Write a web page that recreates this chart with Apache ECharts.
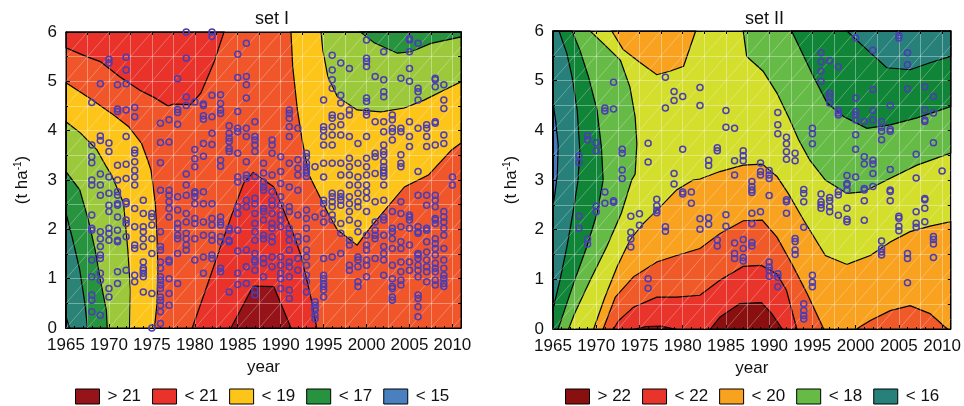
<!DOCTYPE html>
<html>
<head>
<meta charset="utf-8">
<script src="https://cdn.jsdelivr.net/npm/echarts@6/dist/echarts.min.js"></script>
<style>
  html, body { margin: 0; padding: 0; background: #fff; }
  #chart { width: 964px; height: 406px; }
</style>
</head>
<body>
<div id="chart"></div>
<script>
const FONT = "'Liberation Sans', Arial, sans-serif";

// axis ticks
const xTicks = [1965, 1970, 1975, 1980, 1985, 1990, 1995, 2000, 2005, 2010];
const yTicks = [0, 1, 2, 3, 4, 5, 6];

// ---- set I contour regions (year, t/ha) ----
const s1Red1 = [[1965,6],[1965,5.68],[1967.4,5.5],[1969,5.4],[1971.3,5.09],[1973.6,4.82],[1975.2,4.68],[1976.9,4.5],[1977.5,4.54],[1979.5,4.53],[1980.7,4.76],[1982.2,5.37],[1983.4,6]];
const s1Red2 = [[1979.7,0],[1981.4,0.84],[1983.0,1.65],[1984.5,2.39],[1985.7,2.94],[1986.8,3.15],[1989.2,2.86],[1990.0,2.53],[1991.6,1.85],[1992.4,1.45],[1993.5,0.63],[1994.2,0]];
const s1DarkRed = [[1984.2,0],[1986.8,0.85],[1989.2,0.84],[1991.2,0]];
const s1YellowL = [[1965,4.97],[1967.5,4.69],[1970.3,4.35],[1972.3,4.08],[1973.8,3.74],[1974.5,3.41],[1974.9,3.2],[1975.4,2.53],[1975.6,1.85],[1975.7,1.18],[1975.6,0.5],[1975.3,0],[1965,0]];
const s1YellowR = [[1991.2,6],[1991.4,5.3],[1991.95,4.42],[1992.5,3.81],[1993.3,3.1],[1995.5,2.33],[1996.6,1.99],[1998.9,1.68],[2000.5,2.05],[2004.4,2.86],[2007.2,3.1],[2009.9,3.61],[2011,3.75],[2011,6]];
const s1LGreenL = [[1965,4.18],[1966.7,3.95],[1968.6,3.61],[1969.7,3.27],[1970.3,3.1],[1971.7,2.53],[1972.2,1.58],[1972.5,0.77],[1972.4,0],[1965,0]];
const s1LGreenR = [[1994.7,6],[1994.9,5.64],[1995.5,5.09],[1996.6,4.69],[1998.9,4.42],[2001.7,4.38],[2004.4,4.46],[2006.7,4.62],[2009.0,4.82],[2011,4.99],[2011,6]];
const s1GreenL = [[1965,3.17],[1966.6,2.8],[1967.6,2.19],[1968.4,1.58],[1969.0,0.97],[1969.7,0.36],[1969.8,0],[1965,0]];
const s1GreenR = [[1999.3,6],[2000.9,5.78],[2003.6,5.57],[2005.2,5.6],[2007.5,5.77],[2011,5.9],[2011,6]];
const s1Teal = [[1965,2.33],[1965.7,1.85],[1966.6,1.18],[1967.2,0.5],[1967.5,0],[1965,0]];
const s1Blue = [[1965,0.23],[1965.4,0],[1965,0]];

// ---- set II contour regions ----
const s2OrangeLow = [[1969.7,0],[1971.0,0.64],[1972.4,1.25],[1973.9,1.79],[1975.5,2.13],[1977.4,2.46],[1979.3,2.8],[1981.2,3.0],[1982.0,3.02],[1984.3,3.17],[1987.0,3.3],[1989.2,3.32],[1990.9,3.07],[1992.2,2.73],[1994.0,2.19],[1996.5,1.48],[1999.0,1.3],[2001.7,1.48],[2004.0,1.75],[2006.3,1.96],[2008.6,2.07],[2011,2.16],[2011,0]];
const s2OrangeTop = [[1971.8,6],[1973.1,5.63],[1975.1,5.36],[1977.0,5.12],[1978.5,5.19],[1980.1,5.29],[1981.5,6]];
const s2OrRedL = [[1970.8,0],[1972.2,0.64],[1974.3,1.05],[1977.0,1.35],[1979.3,1.48],[1982.0,1.62],[1984.3,1.92],[1987.0,2.18],[1989.2,2.19],[1990.9,1.85],[1992.6,1.32],[1994.4,0.71],[1996.3,0]];
const s2OrRedR = [[2000.1,0],[2001.7,0.17],[2004.0,0.37],[2006.3,0.47],[2008.6,0.31],[2010.6,0]];
const s2Red = [[1972.0,0],[1972.6,0.17],[1974.3,0.44],[1977.0,0.64],[1979.3,0.64],[1982.0,0.68],[1984.3,0.98],[1987.0,1.26],[1989.1,1.28],[1990.9,1.11],[1992.0,0.78],[1993.2,0]];
const s2DarkRedA = [[1974.5,0],[1975.8,0.05],[1977.5,0.06],[1979,0]];
const s2DarkRedB = [[1983.2,0],[1984.3,0.24],[1986.6,0.51],[1989.1,0.53],[1990.3,0.31],[1991.5,0]];
const s2LGreenL = [[1965,6],[1969.3,6],[1970.8,5.75],[1972.8,5.41],[1973.9,4.87],[1974.5,4.27],[1974.7,3.73],[1974.5,3.12],[1974.1,3.0],[1972.9,2.33],[1971.2,1.65],[1969.3,0.98],[1967.5,0.31],[1966.8,0],[1965,0]];
const s2LGreenR = [[1987.0,6],[1987.4,5.49],[1989.3,5.19],[1990.9,4.75],[1992.4,4.21],[1993.4,3.81],[1994.7,3.4],[1996.5,3.0],[1999.0,2.73],[2000.9,2.76],[2003.6,3.0],[2007.1,3.3],[2011,3.54],[2011,6]];
const s2GreenL = [[1965,6],[1967.2,6],[1968.1,5.62],[1969.1,5.08],[1970.1,4.4],[1970.6,3.66],[1970.8,3.0],[1970.1,2.33],[1968.9,1.65],[1967.5,0.98],[1966.2,0.31],[1965.6,0],[1965,0]];
const s2GreenR = [[1992.6,6],[1994.0,5.49],[1995.1,5.09],[1996.7,4.55],[1998.6,4.28],[2001.3,4.04],[2004.0,4.11],[2007.1,4.25],[2011,4.48],[2011,6]];
const s2TealL = [[1965,6],[1965.7,6],[1966.6,5.55],[1967.2,5.08],[1967.8,4.4],[1968.1,3.6],[1967.9,3.0],[1967.3,2.33],[1966.6,1.65],[1965.8,0.98],[1965,0.4]];
const s2TealR = [[1999.0,6],[2000.9,5.69],[2003.6,5.26],[2006.3,5.22],[2008.6,5.36],[2011,5.49],[2011,6]];
const s2Blue = [[1965,4.55],[1965.3,4.2],[1965.6,3.7],[1965.5,3.1],[1965.2,2.7],[1965,2.5]];

// ---- observations (year, t/ha) ----
const s1Years = [1968,1969,1970,1971,1972,1973,1974,1975,1976,1977,1978,1979,1980,1981,1982,1983,1984,1985,1986,1987,1988,1989,1990,1991,1992,1993,1994,1995,1996,1997,1998,1999,2000,2001,2002,2003,2004,2005,2006,2007,2008,2009,2010];
const s1Values = [
  [4.57,3.71,3.47,3.35,3.0,2.9,2.29,2.02,1.98,1.38,1.04,0.67,0.56,0.33],
  [4.95,3.89,3.8,3.12,2.9,2.69,1.95,1.81,1.65,1.48,1.41,1.11,0.97,0.26],
  [5.45,5.37,3.75,3.58,3.06,2.73,2.49,2.36,2.02,1.92,1.78,0.8,0.63],
  [4.93,4.44,4.39,3.3,3.0,2.76,2.69,2.52,2.49,2.25,1.98,1.78,1.75,1.14,0.9],
  [5.49,5.23,4.95,4.42,3.88,3.32,3.03,2.56,2.52,2.19,2.12,1.85,1.17],
  [4.47,4.28,3.61,3.54,3.37,3.2,3.06,2.9,2.42,2.05,1.68,1.61,1.07,0.94],
  [2.59,2.32,2.05,1.95,1.81,1.65,1.34,1.21,1.17,1.11,1.04,0.73],
  [2.32,2.25,2.09,1.81,1.51,0.7,0],
  [4.15,3.76,3.35,2.79,1.95,1.65,1.58,1.34,1.21,1.04,0.97,0.87,0.8,0.63,0.56,0.46,0.33,0.09],
  [4.22,3.77,2.79,2.69,2.56,2.42,2.25,1.38,1.34,1.0,0.7,0.46],
  [5.05,4.43,4.37,4.13,2.66,2.39,2.12,2.02,1.88,1.81,1.51,0.9],
  [6.0,5.47,4.68,4.51,3.12,2.9,2.69,2.32,2.15,1.92,1.81,1.68,1.58],
  [4.58,3.62,3.43,3.27,2.76,2.73,2.66,2.52,2.22,2.12,1.81,1.38],
  [4.54,4.51,4.3,4.23,3.74,3.48,2.76,2.52,2.15,1.88,1.44,1.11],
  [6.0,5.91,4.72,4.28,3.95,3.72,2.52,2.22,2.09,1.88,1.78,1.48,1.41],
  [4.73,4.55,4.42,4.35,3.4,3.28,2.25,2.15,2.09,1.85,1.75,1.21,1.14],
  [4.1,3.95,3.85,3.78,3.64,3.58,2.02,1.98,1.78,1.75,0.73],
  [5.55,5.08,4.39,4.05,3.98,3.54,3.06,2.96,2.46,2.32,1.98,1.56,1.11,0.88],
  [5.77,5.1,4.93,4.66,4.05,3.88,3.37,3.1,3.03,2.59,2.46,1.58,1.24,0.9],
  [4.18,3.88,3.81,3.71,3.58,3.07,2.63,2.52,2.32,2.12,1.95,1.78,1.51,1.38,1.34,1.17,0.77,0.67],
  [3.34,3.14,2.96,2.86,2.79,2.42,2.36,2.19,1.88,1.81,1.41,1.31,1.04],
  [3.81,3.71,3.54,3.1,2.76,2.59,2.49,2.32,2.12,2.02,1.85,1.75,1.44,1.24],
  [3.47,3.17,2.93,2.66,2.49,2.29,2.19,2.05,1.44,1.27,1.11,1.0,0.8],
  [4.42,4.35,4.25,4.08,3.88,3.34,2.86,2.46,2.36,2.02,1.92,1.78,1.58,1.34,1.24,1.04,0.77,0.6],
  [4.05,3.41,3.24,3.1,2.79,2.29,1.85,1.75,1.41,1.17],
  [3.54,3.47,3.34,3.27,3.2,3.14,3.07,2.39,2.22,2.02,1.81,1.58,1.44,1.27,1.07,0.94,0.73],
  [3.27,2.25,0.53,0.46,0.4,0.36,0.26,0.19],
  [4.62,4.08,4.01,3.88,3.71,3.34,3.06,2.59,2.52,2.32,2.15,1.41,1.07,1.0,0.9,0.84,0.77,0.63],
  [5.53,5.23,5.03,4.86,4.32,4.25,4.08,3.91,3.71,3.34,2.73,2.66,2.56,2.46,2.29,2.19,1.44],
  [5.37,4.72,4.56,4.29,4.12,3.91,3.34,3.1,2.73,2.66,2.59,2.49,2.12,1.92,1.51],
  [5.26,4.42,4.32,3.88,3.44,3.27,3.1,2.9,2.66,2.52,2.36,2.19,1.78,1.68,1.27,1.17],
  [3.74,3.34,3.06,2.9,2.73,2.56,2.46,2.12,1.95,1.44,1.38,1.24,0.94,0.84],
  [5.84,5.47,5.4,5.3,4.66,4.59,4.39,4.32,3.88,3.44,3.27,3.1,2.9,2.76,2.63,2.36,1.88,1.68,1.58,1.38,1.27,1.04],
  [5.1,4.18,3.54,3.47,3.13,2.56,2.15,1.98,1.88,1.81,1.41],
  [5.6,5.03,4.79,4.69,4.18,3.98,3.71,3.58,3.51,3.37,3.27,3.2,3.14,3.07,2.9,2.59,2.25,2.19,1.88,1.65,1.51,1.38,1.07],
  [4.32,4.22,4.05,3.98,3.81,2.36,2.02,1.95,1.81,1.61,1.27,1.0,0.84,0.8,0.63,0.56],
  [5.06,4.05,3.98,3.51,3.34,3.27,2.56,2.32,2.05,1.75,1.61,1.34,1.14,0.97,0.87],
  [5.87,5.84,5.6,5.26,5.0,4.18,3.88,3.68,2.29,2.25,2.19,2.02,1.68,1.34,1.17],
  [5.77,4.86,4.79,4.62,4.05,3.17,2.69,2.05,1.95,1.92,1.51,1.48,1.41,1.27,1.17,1.04,0.67,0.6,0.43,0.23],
  [4.12,4.05,3.88,3.68,2.69,2.49,2.02,1.98,1.75,1.54,1.38,1.24,1.14,0.94],
  [5.06,5.03,4.89,4.18,4.15,3.71,2.69,2.59,2.46,2.22,2.19,2.12,1.81,1.71,1.61,1.48,1.31,1.21,1.14,0.97,0.87],
  [4.93,4.62,4.45,3.91,3.74,2.36,2.25,2.15,2.02,1.88,1.61,1.38,1.21,1.07,1.0,0.9,0.84],
  [3.06,2.9]
];

const s2Years = [1968,1969,1970,1971,1972,1973,1974,1975,1976,1977,1978,1979,1980,1981,1982,1983,1984,1985,1986,1987,1988,1989,1990,1991,1992,1993,1994,1995,1996,1997,1998,1999,2000,2001,2002,2003,2004,2005,2006,2007,2008,2009,2010];
const s2Values = [
  [3.49,3.35,2.27,2.03],
  [3.89,3.81,1.81,1.71],
  [3.75,3.59,2.47,2.36],
  [4.45,4.39,2.76,2.53],
  [4.97,4.43,2.58,2.55],
  [3.62,3.54,3.2,3.03],
  [2.27,1.95,1.81,1.65],
  [2.32,2.09],
  [3.74,3.36,1.01,0.82],
  [2.61,2.48,2.39,2.34],
  [5.07,4.45,2.06,1.97],
  [4.78,4.6,3.13,2.92],
  [4.68,3.62,2.76,2.72],
  [2.76,2.53],
  [4.86,4.5,2.22,2.01],
  [3.4,3.29,2.24,2.11],
  [3.65,3.59,1.79,1.67],
  [4.4,4.06,2.3,2.07],
  [4.04,3.39,3.1,1.73,1.52,1.42],
  [3.59,3.49,3.39,1.8,1.62,1.44,1.37],
  [2.97,2.87,2.8,2.75,2.33,2.12,1.74,1.67],
  [3.34,3.17,3.1,2.36],
  [3.19,3.1,3.03,2.69,1.35,1.25,1.18,1.06],
  [4.36,4.11,3.93,1.11,1.04,0.85],
  [3.86,3.73,3.57,3.42,2.6,2.56,2.33],
  [3.54,3.39,1.82,1.76,1.59,1.5],
  [2.81,2.73,2.56,2.05,0.51,0.37,0.27,0.2],
  [4.04,3.93,3.73,1.08,0.94,0.85],
  [5.56,5.38,5.19,4.99,2.72,2.56,2.5,2.43],
  [5.4,4.74,4.68,4.55,2.65,2.58,2.46,2.36],
  [5.28,4.4,4.35,4.31,2.77,2.7,2.29],
  [3.09,2.93,2.9,2.8,2.43,2.21,2.16],
  [5.86,4.65,4.38,4.31,4.21,3.91,3.62,3.06],
  [4.18,3.47,3.32,2.83,2.8,2.58,2.19],
  [5.61,4.82,4.4,4.21,3.4,3.32,3.13,2.87],
  [4.18,4.06,3.98,3.81,1.77,1.62,1.55,1.49],
  [4.5,4.02,3.98,3.21,2.8,2.77,2.58],
  [5.91,5.86,2.27,2.23,2.07,1.98],
  [5.56,5.32,4.83,1.52,1.42,0.93],
  [3.52,3.04,2.36,2.13,2.05],
  [4.88,4.41,4.21,4.18,2.63,2.6,2.43,2.16],
  [4.68,4.35,3.75,1.86,1.8,1.71,1.44],
  [3.18]
];

// legend labels
const s1Legend = ['> 21', '< 21', '< 19', '< 17', '< 15'];
const s2Legend = ['> 22', '< 22', '< 20', '< 18', '< 16'];

const chart = echarts.init(document.getElementById('chart'));

function bandSeries(name, g, polys, color) {
  return {
    type: 'custom',
    name: name,
    xAxisIndex: g * 2,
    yAxisIndex: g * 2,
    z: 2,
    silent: true,
    itemStyle: { color: color },
    data: polys.map(p => p[0]),
    renderItem: function (params, api) {
      const pts = polys[params.dataIndex].map(p => api.coord(p));
      return {
        type: 'polygon',
        shape: { points: pts },
        style: { fill: color, stroke: '#000', lineWidth: 1.2 }
      };
    }
  };
}

function pointSeries(g, years, values) {
  const data = [];
  years.forEach((yr, i) => values[i].forEach(v => data.push([yr, v])));
  return {
    type: 'scatter',
    xAxisIndex: g * 2,
    yAxisIndex: g * 2,
    z: 5,
    silent: true,
    symbol: 'circle',
    symbolSize: 6,
    itemStyle: { color: 'rgba(0,0,0,0)', borderColor: '#4b3db3', borderWidth: 1.5, opacity: 1 },
    data: data
  };
}

const meshLine = { show: true, lineStyle: { color: 'rgba(255,255,255,0.35)', width: 1 } };

function axesX(g) {
  return [
    {
      gridIndex: g, type: 'value', min: xTicks[0], max: 2011, interval: 5, position: 'bottom', z: 3,
      axisLine: { show: true, onZero: false, lineStyle: { color: '#000', width: 1 } },
      axisTick: { show: true, inside: true, length: 4, lineStyle: { color: '#000' } },
      minorTick: { show: true, splitNumber: 5, length: 2, lineStyle: { color: '#000' } },
      axisLabel: { fontSize: 17, color: '#111', margin: 9, showMaxLabel: false, fontFamily: FONT, formatter: v => String(v) },
      splitLine: { show: false },
      name: 'year', nameLocation: 'middle', nameGap: 29,
      nameTextStyle: { fontSize: 17, color: '#111', fontFamily: FONT }
    },
    {
      gridIndex: g, type: 'value', min: xTicks[0], max: 2011, interval: 2.5, position: 'top', z: 3,
      axisLine: { show: true, onZero: false, lineStyle: { color: '#000', width: 1 } },
      axisTick: { show: true, inside: true, length: 3, lineStyle: { color: '#000' } },
      axisLabel: { show: false },
      splitLine: meshLine
    }
  ];
}

function axesY(g, gap) {
  return [
    {
      gridIndex: g, type: 'value', min: yTicks[0], max: yTicks[yTicks.length - 1], interval: 1, position: 'left', z: 3,
      axisLine: { show: true, onZero: false, lineStyle: { color: '#000', width: 1 } },
      axisTick: { show: true, inside: true, length: 4, lineStyle: { color: '#000' } },
      minorTick: { show: true, splitNumber: 2, length: 2, lineStyle: { color: '#000' } },
      axisLabel: { fontSize: 17, color: '#111', margin: 9, fontFamily: FONT },
      splitLine: { show: false },
      name: '{a|(t ha}{s|-1}{a|)}', nameLocation: 'middle', nameGap: gap,
      nameTextStyle: {
        fontFamily: FONT,
        rich: {
          a: { fontSize: 17, color: '#111', fontFamily: FONT },
          s: { fontSize: 10, color: '#111', fontFamily: FONT, verticalAlign: 'top', padding: [0, 0, 9, 0] }
        }
      }
    },
    {
      gridIndex: g, type: 'value', min: 0, max: 6, interval: 0.5, position: 'right', z: 3,
      axisLine: { show: true, onZero: false, lineStyle: { color: '#000', width: 1 } },
      axisTick: { show: true, inside: true, length: 3, lineStyle: { color: '#000' } },
      axisLabel: { show: false },
      splitLine: meshLine
    }
  ];
}

function legendFor(names, left) {
  return {
    data: names, left: left, top: 388, padding: 0,
    icon: 'rect', itemWidth: 24, itemHeight: 15, itemGap: 11,
    selectedMode: false,
    itemStyle: { borderColor: '#000', borderWidth: 1 },
    textStyle: { fontSize: 17, color: '#111', fontFamily: FONT, padding: [0, 0, 0, 3] }
  };
}

const option = {
  animation: false,
  backgroundColor: '#fff',
  title: [
    { text: 'set I', left: 255, top: 10, padding: 0, textStyle: { fontSize: 18, fontWeight: 'normal', color: '#111', fontFamily: FONT } },
    { text: 'set II', left: 745, top: 10, padding: 0, textStyle: { fontSize: 18, fontWeight: 'normal', color: '#111', fontFamily: FONT } }
  ],
  legend: [legendFor(s1Legend, 75), legendFor(s2Legend, 565)],
  grid: [
    { left: 66, top: 32, width: 395, height: 296, show: true, backgroundColor: '#f0562a', borderColor: '#000', borderWidth: 1 },
    { left: 553, top: 31, width: 399, height: 298, show: true, backgroundColor: '#d3de2d', borderColor: '#000', borderWidth: 1 }
  ],
  xAxis: axesX(0).concat(axesX(1)),
  yAxis: axesY(0, 34).concat(axesY(1, 32)),
  series: [
    bandSeries('< 21', 0, [s1Red1, s1Red2], '#e8322a'),
    bandSeries('> 21', 0, [s1DarkRed], '#97131a'),
    bandSeries('< 19', 0, [s1YellowL, s1YellowR], '#fdc41a'),
    bandSeries('< 18 (I)', 0, [s1LGreenL, s1LGreenR], '#9cc93c'),
    bandSeries('< 17', 0, [s1GreenL, s1GreenR], '#27933f'),
    bandSeries('< 16 (I)', 0, [s1Teal], '#2a8374'),
    bandSeries('< 15', 0, [s1Blue], '#4a80c0'),
    pointSeries(0, s1Years, s1Values),

    bandSeries('< 20', 1, [s2OrangeLow, s2OrangeTop], '#f8a21f'),
    bandSeries('< 21 (II)', 1, [s2OrRedL, s2OrRedR], '#f05a28'),
    bandSeries('< 22', 1, [s2Red], '#e8342a'),
    bandSeries('> 22', 1, [s2DarkRedA, s2DarkRedB], '#8a1010'),
    bandSeries('< 18', 1, [s2LGreenL, s2LGreenR], '#66bb47'),
    bandSeries('< 17 (II)', 1, [s2GreenL, s2GreenR], '#108538'),
    bandSeries('< 16', 1, [s2TealL, s2TealR], '#27807a'),
    bandSeries('< 15 (II)', 1, [s2Blue], '#4679c0'),
    pointSeries(1, s2Years, s2Values)
  ]
};

chart.setOption(option);

// faint diagonal lines of the plotting mesh (one per 2.5-year x 0.5 cell)
function meshDiagonals(g) {
  const els = [];
  const x0 = 1965, x1 = 2011, slope = 0.5 / 2.5;
  for (let k = -12; k <= 19; k++) {
    const xs = x0 + 2.5 * k;
    let a = [xs, 0], b = [xs + 6 / slope, 6];
    if (a[0] < x0) a = [x0, (x0 - xs) * slope];
    if (b[0] > x1) b = [x1, (x1 - xs) * slope];
    if (a[0] >= b[0]) continue;
    const p = chart.convertToPixel({ gridIndex: g }, a);
    const q = chart.convertToPixel({ gridIndex: g }, b);
    els.push({
      type: 'line', silent: true, z: 4,
      shape: { x1: p[0], y1: p[1], x2: q[0], y2: q[1] },
      style: { stroke: 'rgba(255,255,255,0.28)', lineWidth: 1 }
    });
  }
  return els;
}
chart.setOption({ graphic: meshDiagonals(0).concat(meshDiagonals(1)) });
</script>
</body>
</html>
